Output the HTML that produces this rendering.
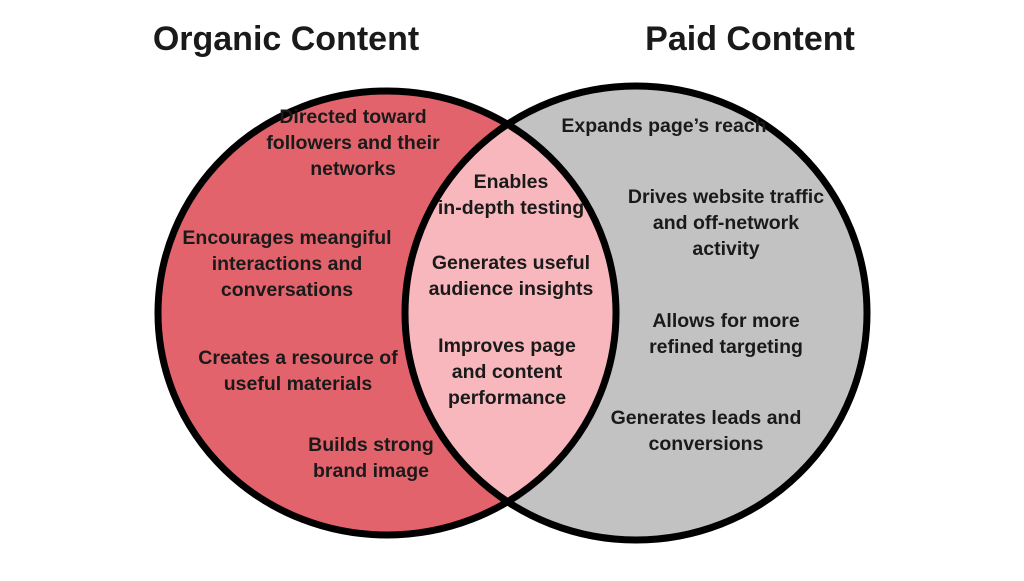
<!DOCTYPE html>
<html><head><style>
body{margin:0;background:#fff;}
svg text{font-family:"Liberation Sans",sans-serif;font-weight:bold;fill:#1a1a1a;}
</style></head><body>
<svg width="1024" height="576" viewBox="0 0 1024 576" xmlns="http://www.w3.org/2000/svg">
<defs>
<clipPath id="cl"><ellipse cx="387" cy="313" rx="229" ry="222"/></clipPath>
</defs>
<ellipse cx="387" cy="313" rx="229" ry="222" fill="#e2636c"/>
<ellipse cx="636" cy="313" rx="231" ry="227" fill="#c2c2c2"/>
<ellipse cx="636" cy="313" rx="231" ry="227" fill="#f7b7bd" clip-path="url(#cl)"/>
<ellipse cx="387" cy="313" rx="229" ry="222" fill="none" stroke="#000" stroke-width="7"/>
<ellipse cx="636" cy="313" rx="231" ry="227" fill="none" stroke="#000" stroke-width="7"/>
<text x="286" y="50" font-size="34" text-anchor="middle">Organic Content</text>
<text x="750" y="50" font-size="34" text-anchor="middle">Paid Content</text>
<g font-size="19.5" text-anchor="middle">
<text x="353" y="123">Directed toward</text>
<text x="353" y="149">followers and their</text>
<text x="353" y="175">networks</text>
<text x="287" y="244">Encourages meangiful</text>
<text x="287" y="270">interactions and</text>
<text x="287" y="296">conversations</text>
<text x="298" y="364">Creates a resource of</text>
<text x="298" y="390">useful materials</text>
<text x="371" y="451">Builds strong</text>
<text x="371" y="477">brand image</text>
<text x="511" y="188">Enables</text>
<text x="511" y="214">in-depth testing</text>
<text x="511" y="269">Generates useful</text>
<text x="511" y="295">audience insights</text>
<text x="507" y="352">Improves page</text>
<text x="507" y="378">and content</text>
<text x="507" y="404">performance</text>
<text x="664" y="132">Expands page’s reach</text>
<text x="726" y="203">Drives website traffic</text>
<text x="726" y="229">and off-network</text>
<text x="726" y="255">activity</text>
<text x="726" y="327">Allows for more</text>
<text x="726" y="353">refined targeting</text>
<text x="706" y="424">Generates leads and</text>
<text x="706" y="450">conversions</text>
</g>
</svg>
</body></html>
